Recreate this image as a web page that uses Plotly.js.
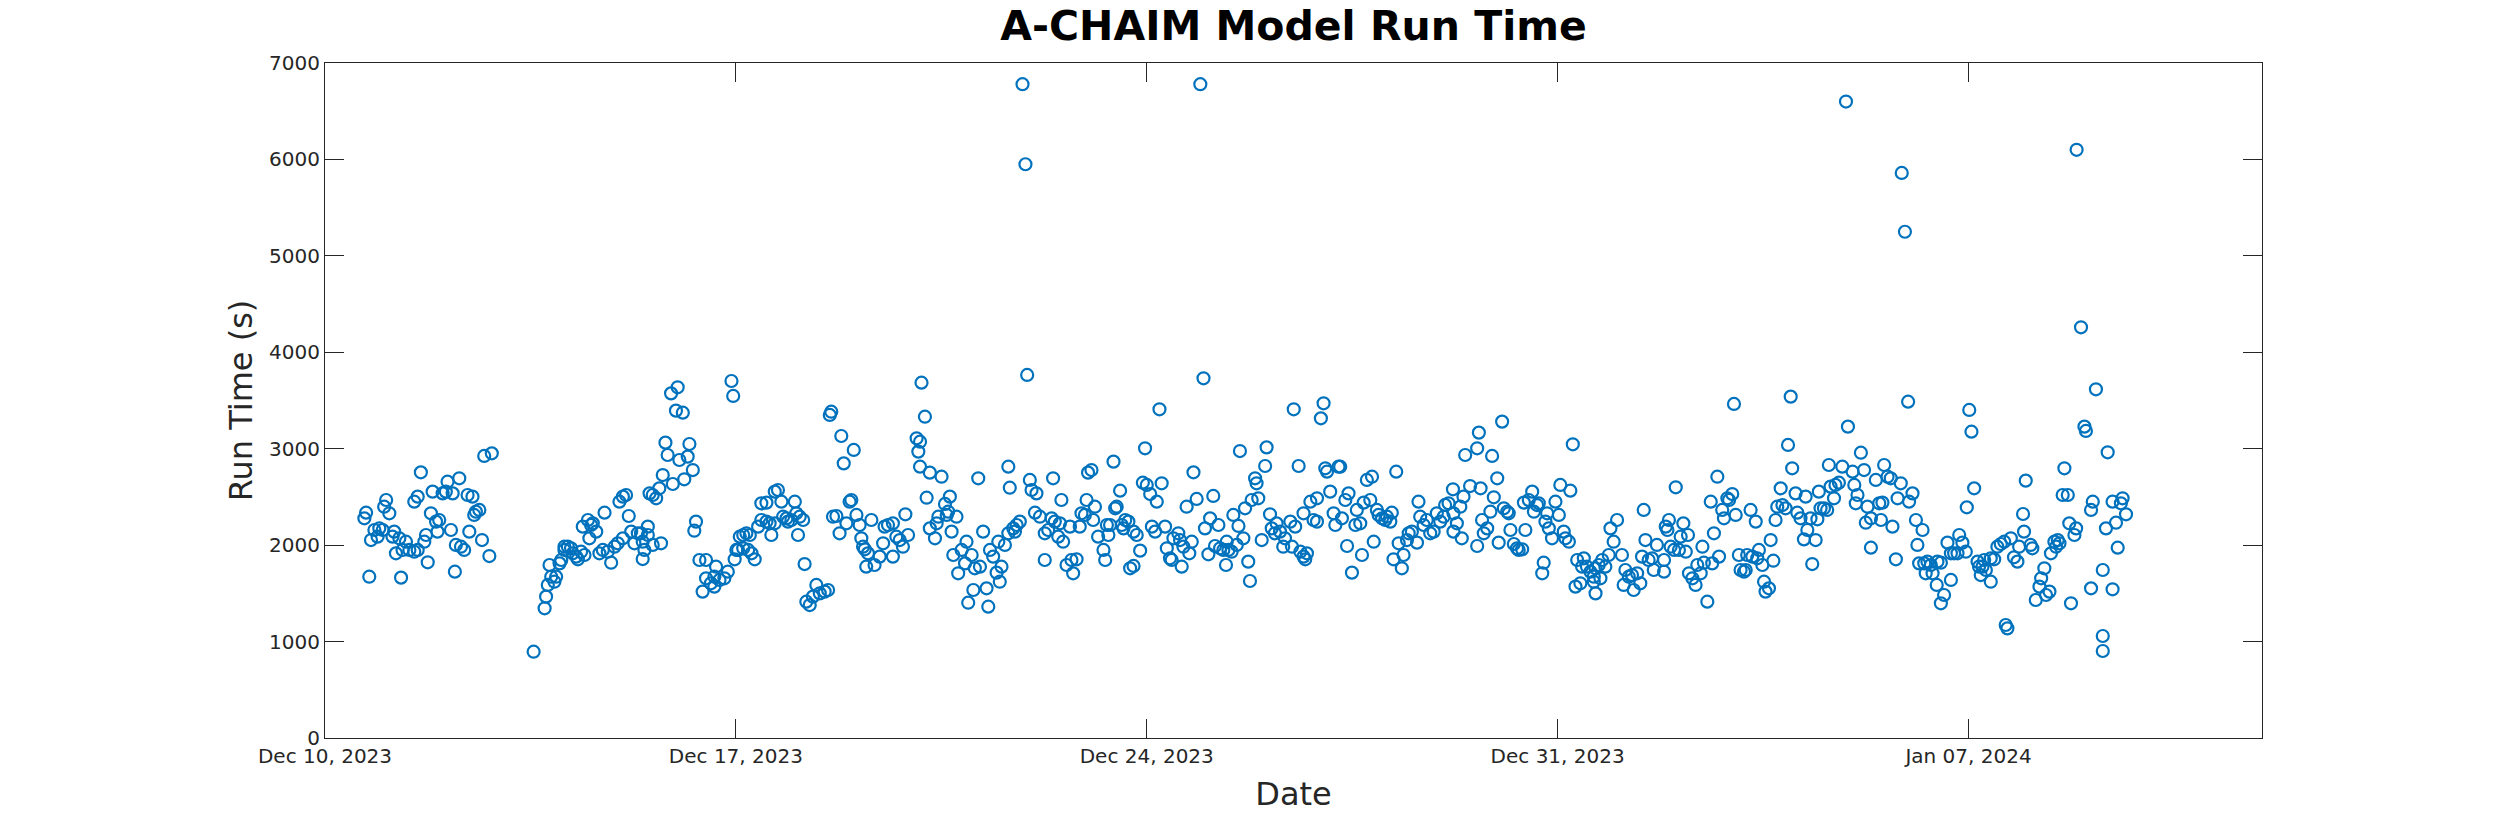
<!DOCTYPE html>
<html>
<head>
<meta charset="utf-8">
<script src="https://cdn.plot.ly/plotly-3.0.1.min.js"></script>
<style>
  html, body { margin: 0; padding: 0; background: #ffffff; }
  #run-time { width: 2500px; height: 833px; }
</style>
</head>
<body>
<div id="run-time"></div>
<script>
// hours after 2023-12-10 00:00 for each model run
const START_DATE = Date.UTC(2023, 11, 10);
const runHours = [
  16.1,16.8,18.1,18.8,20.2,21.5,22.2,23.6,24.2,25.0,26.3,27.6,28.3,29.0,30.4,31.1,31.7,33.1,34.5,36.5,36.5,37.9,37.9,39.2,40.6,41.3,42.0,43.3,44.0,45.4,46.0,46.7,48.1,49.4,50.1,51.5,52.2,53.1,53.5,54.9,55.6,56.9,58.3,59.0,60.3,61.0,61.7,63.1,64.2,65.1,67.2,68.2,85.3,
  89.8,90.4,91.1,91.8,92.5,93.8,94.5,95.9,96.6,97.9,97.9,99.3,100.6,101.3,102.7,103.4,104.7,105.4,106.1,107.5,108.1,108.8,109.5,110.9,112.2,113.6,114.3,115.6,117.0,118.4,119.7,120.4,121.8,121.8,123.1,124.2,125.2,126.5,127.9,129.2,129.9,129.9,130.6,132.0,132.0,132.7,134.0,134.0,135.4,136.7,137.4,138.1,139.2,140.1,141.5,142.2,143.5,144.2,144.9,146.3,146.9,148.3,149.0,150.4,151.0,151.7,153.1,154.4,155.8,155.8,157.8,159.2,159.2,159.9,161.3,163.3,164.7,
  166.2,166.9,167.5,168.2,168.9,169.6,171.0,171.0,172.3,173.0,173.7,174.4,175.7,177.1,178.4,178.4,180.5,180.5,181.8,182.5,183.9,183.9,185.2,186.6,187.3,188.7,189.3,190.7,192.1,192.7,193.4,194.1,195.5,196.1,196.8,198.2,199.5,200.9,202.3,204.3,205.7,206.4,207.0,207.7,209.1,210.4,211.1,212.1,213.2,214.5,215.2,216.2,217.3,218.6,219.3,220.0,220.7,221.3,222.0,223.4,224.7,226.8,228.2,228.8,230.2,232.2,232.2,233.6,235.0,236.3,237.3,238.4,
  241.9,242.6,243.3,243.3,243.9,245.3,246.0,247.3,247.3,249.4,250.1,250.8,252.1,253.5,254.2,254.8,255.5,256.2,256.9,258.2,258.9,260.3,261.7,262.3,263.0,264.4,265.1,265.7,267.1,267.8,269.1,270.5,271.2,271.9,273.2,274.6,275.3,275.9,276.6,278.0,279.4,279.4,280.0,281.4,282.1,282.8,284.1,285.2,286.4,287.1,288.2,288.9,290.3,290.9,292.3,294.3,294.3,295.7,297.1,297.7,298.4,299.8,300.5,301.1,301.8,303.2,304.6,305.2,305.9,307.3,308.6,309.3,310.7,311.4,312.0,313.4,314.1,314.8,316.1,
  318.3,319.0,319.7,320.3,321.0,322.4,323.1,323.7,325.1,325.8,326.5,327.2,328.5,329.2,330.6,330.6,331.9,333.3,334.4,335.3,336.0,337.4,338.1,339.4,340.1,341.2,342.1,343.5,344.2,345.5,346.2,346.9,348.9,349.6,350.3,351.0,352.3,353.4,354.4,355.1,356.4,357.9,359.2,359.8,361.2,361.9,363.2,363.9,365.3,366.0,367.3,368.4,368.7,369.4,370.7,371.4,372.8,373.5,374.1,375.5,376.2,377.5,378.2,378.9,380.3,380.9,381.6,383.0,384.4,385.0,386.4,387.1,388.4,389.1,390.5,391.8,392.5,
  394.7,395.4,396.1,396.7,398.1,398.8,400.1,400.1,400.8,401.5,402.9,404.2,405.6,405.6,407.2,408.3,409.0,409.7,411.0,412.4,413.1,414.4,415.1,415.8,417.2,417.9,418.5,419.9,421.3,421.9,423.3,424.0,424.7,426.0,427.4,428.1,428.8,430.1,430.8,432.2,433.5,434.2,435.6,436.2,436.9,438.0,439.0,440.3,441.0,442.4,443.1,444.4,446.5,447.1,447.8,449.2,450.5,451.9,453.3,454.6,456.0,457.4,458.0,459.4,461.2,461.4,461.4,462.8,464.2,464.8,465.5,466.2,468.2,
  471.1,471.1,471.8,472.5,473.1,473.8,475.2,476.5,477.2,477.9,479.3,479.9,481.3,482.0,483.4,484.0,484.7,486.1,487.4,488.1,489.5,490.2,490.8,492.2,493.6,494.3,495.6,496.3,497.7,498.3,499.0,499.7,500.4,501.7,503.1,504.5,505.1,506.5,507.2,508.6,509.2,510.2,511.3,512.0,513.3,514.0,514.7,516.0,517.4,518.8,518.8,519.5,519.5,520.8,521.5,522.2,523.5,524.9,525.6,526.9,528.3,530.3,531.0,531.7,533.1,534.4,535.1,536.5,537.8,538.5,539.2,539.9,541.2,542.6,543.3,544.6,
  547.5,547.5,548.2,548.9,549.5,550.2,551.6,552.3,553.6,554.3,555.4,556.4,557.3,557.7,559.1,560.4,561.1,562.5,563.2,563.8,565.2,566.6,567.2,567.9,569.3,570.0,571.3,572.0,573.4,574.1,575.4,576.1,576.8,578.1,578.8,580.2,580.9,581.5,582.9,583.6,585.0,585.6,586.3,587.7,588.4,589.0,590.4,591.1,592.2,593.1,593.8,595.2,595.9,597.2,598.2,599.3,599.9,601.3,602.0,603.3,604.7,605.4,606.1,607.4,608.1,609.5,610.2,610.8,611.5,612.9,614.2,614.9,615.6,617.0,617.6,619.0,620.4,621.9,622.7,
  624.6,625.3,625.9,626.6,628.0,629.3,630.0,630.7,632.1,632.1,634.1,635.5,636.2,636.8,637.5,638.9,640.2,640.9,642.3,643.0,644.3,644.7,646.0,647.3,647.7,649.1,650.5,651.1,651.8,653.2,653.9,654.5,655.2,656.6,657.3,659.0,659.3,660.7,660.7,662.0,663.4,664.8,664.8,666.1,667.5,668.2,669.5,670.9,671.3,672.3,673.2,674.3,675.7,676.3,677.0,677.7,678.4,679.1,681.1,681.1,682.5,683.8,685.2,686.6,687.2,687.9,689.3,690.6,692.0,692.7,694.3,694.7,695.4,697.4,698.1,699.5,
  701.0,701.7,703.0,703.7,705.1,705.7,707.1,707.8,708.5,709.2,710.5,711.2,712.6,713.2,713.9,715.3,716.0,716.2,718.0,719.4,720.0,722.1,722.1,722.8,724.1,726.9,726.9,726.9,728.2,728.9,730.9,730.9,732.3,733.0,734.3,735.0,736.4
];

// run time in seconds, same order as runHours
const runSeconds = [
  2278,2337,1673,2053,2157,2088,2174,2157,2399,2468,2330,2088,2140,1915,2071,1663,1950,2036,1950,1932,2451,2503,1950,2755,2036,2105,1822,2330,2555,2244,2140,2261,2537,2555,2658,2157,2537,1725,2002,2693,1984,1950,2520,2140,2503,2313,2347,2365,2053,2925,1887,2952,895,
  1345,1466,1587,1794,1673,1621,1673,1811,1846,1950,1984,1984,1967,1915,1881,1853,1932,2192,1898,2261,2071,2209,2226,2140,1915,1950,2337,1932,1818,1984,2019,2451,2503,2071,2520,2302,2140,2019,2123,2123,2036,1856,1950,2192,2105,2537,2520,2002,2486,2589,2019,2727,3063,2935,3574,2634,3395,3637,2883,3374,2683,2918,3049,2779,2150,2244,1846,1518,1846,1656,1604,1673,1570,1777,1639,1656,1725,
  3702,3547,1853,1950,1950,2088,2105,1967,2123,1950,2105,1915,1853,2192,2434,2261,2441,2244,2226,2105,2555,2226,2572,2451,2295,2278,2244,2261,2451,2330,2105,2295,2261,1804,1414,1379,1466,1587,1500,1518,1535,3350,3384,2295,2302,2123,3132,2848,2226,2451,2468,2987,2313,2209,2071,1984,1957,1777,1915,2261,1794,1881,2019,2192,2209,2226,1881,2088,2053,1984,2320,2105,
  3108,2970,3073,2814,3685,3332,2492,2752,2174,2071,2226,2295,2710,2427,2313,2347,2503,2140,1898,2295,1708,1950,1811,2036,1403,1898,1535,1760,2693,1777,2140,1552,1362,1950,1881,1715,2036,1621,1777,2002,2814,2123,2596,2174,2140,2209,2244,6780,5950,3765,2676,2572,2337,2537,2295,2123,1846,2157,2278,2693,2244,2088,2226,2468,2036,1794,2192,1846,1708,1853,2192,2330,2313,2468,2752,2779,2261,2399,2088,
  1950,1846,2209,2105,2209,2866,2382,2399,2565,2209,2174,2261,2244,1760,2140,1784,2105,1943,2648,3004,2624,2530,2192,2140,2451,3409,2641,2192,1967,1863,1846,2071,2123,2053,1777,1984,2399,1915,2036,2755,2479,6780,3730,2174,1905,2278,2510,1991,2209,1967,1950,1794,2036,1950,1932,2313,2002,2199,2976,2071,2382,1829,1628,2468,2693,2641,2486,2053,2821,3014,2320,2174,2123,2226,2140,1984,2071,
  2244,1984,3409,2192,2821,1932,2330,1881,1853,1915,2451,2261,2486,2244,3315,3471,2797,2762,2555,2330,2209,2814,2814,2278,2468,1991,2537,1715,2209,2365,2226,1898,2441,2676,2468,2710,2036,2365,2313,2278,2261,2295,2244,2337,1853,2762,2019,1760,1898,2053,2123,2140,2026,2451,2295,2209,2261,2123,2140,2330,2244,2295,2417,2434,2579,2330,2140,2226,2399,2071,2503,2935,2613,
  3004,1991,3167,2589,2261,2123,2174,2347,2925,2496,2693,2026,3281,2382,2347,2330,2157,2012,1967,1950,1957,2441,2157,2468,2555,2347,2416,2434,1708,1818,2244,2330,2174,2071,2451,2313,2624,2140,2071,2036,2565,3046,1570,1846,1604,1777,1863,1777,1725,1673,1621,1760,1500,1794,1656,1846,1777,1898,2174,2036,2261,1898,1587,1742,1673,1690,1535,1708,1604,1881,2365,2053,1846,1863,1742,2002,
  1846,1725,2192,2157,2261,1984,1950,2600,1950,2088,2226,1932,2105,1708,1656,1587,1794,1708,1984,1818,1414,2451,1811,2123,2710,1881,2365,2278,2486,2468,2530,3464,2313,1898,1742,1725,1742,1898,2365,1881,2244,1863,1950,1794,1621,1518,1552,2053,1839,2261,2399,2589,2416,2382,3039,3540,2797,2537,2337,2278,2060,2503,2157,2278,1804,2053,2268,2555,2382,2382,2365,2831,2607,2486,2624,2648,2814,6600,3229,
  2762,2624,2434,2520,2959,2779,2233,2399,2278,1974,2676,2434,2261,2441,2831,2710,2693,2192,1853,2486,2641,5860,5250,3488,2451,2537,2261,2002,1811,2157,1811,1708,1829,1794,1708,1587,1829,1818,1397,1483,2026,1915,1639,1915,1915,2105,2026,1932,2392,3402,3177,2589,1829,1777,1690,1777,1846,1742,1863,1621,1853,1984,2012,2036,1172,1137,2071,1874,1829,1984,2323,2140,2669,2002,1967,1431,
  1570,1656,1760,1483,1518,1915,2036,1984,2053,2019,2520,2797,2520,2226,1397,2105,2174,6100,4259,3229,3184,2365,1552,2451,3616,1742,1058,902,2174,2963,2451,1542,2233,1974,2434,2486,2320
];

const xLimits = ["2023-12-10", "2024-01-12"];
const xTickStart = "2023-12-10";
const yTicks = [0, 1000, 2000, 3000, 4000, 5000, 6000, 7000];

const FONT = "DejaVu Sans, Liberation Sans, sans-serif";
const INK = "#262626";
const WEEK_MS = 7 * 24 * 3600 * 1000;

const toDateString = (h) =>
  new Date(START_DATE + h * 3600 * 1000).toISOString().slice(0, 19).replace("T", " ");

const drawRunTime = () => {
  const plotEl = document.getElementById("run-time");

  if (runHours.length !== runSeconds.length) {
    console.warn("length mismatch", runHours.length, runSeconds.length);
  }

  const data = [
    {
      x: runHours.map(toDateString),
      y: runSeconds,
      type: "scatter",
      mode: "markers",
      marker: {
        symbol: "circle-open",
        size: 12,
        color: "#0072BD",
        line: { color: "#0072BD", width: 2.2 }
      },
      hoverinfo: "skip"
    }
  ];

  const axisCommon = {
    showline: true,
    linecolor: INK,
    linewidth: 1,
    mirror: "allticks",
    ticks: "inside",
    ticklen: 19,
    tickwidth: 1,
    tickcolor: INK,
    showgrid: false,
    zeroline: false,
    automargin: false,
    tickfont: { family: FONT, size: 20, color: INK }
  };

  const layout = {
    width: 2500,
    height: 833,
    margin: { t: 63, r: 238, b: 95, l: 325 },
    paper_bgcolor: "#ffffff",
    plot_bgcolor: "#ffffff",
    showlegend: false,
    title: {
      text: "A-CHAIM Model Run Time",
      font: { family: FONT, size: 41, color: "#000000", weight: "bold" },
      x: 0.5,
      xref: "paper",
      y: 1 - 26 / 833,
      yref: "container",
      yanchor: "middle"
    },
    xaxis: {
      ...axisCommon,
      type: "date",
      range: xLimits,
      tick0: xTickStart,
      dtick: WEEK_MS,
      tickformat: "%b %d, %Y",
      title: { text: "Date", font: { family: FONT, size: 32, color: INK }, standoff: 15 }
    },
    yaxis: {
      ...axisCommon,
      range: [0, 7000],
      tickvals: yTicks,
      title: { text: "Run Time (s)", font: { family: FONT, size: 32, color: INK }, standoff: 6 }
    }
  };

  Plotly.newPlot(plotEl, data, layout, { displayModeBar: false, staticPlot: true });
};

drawRunTime();
</script>
</body>
</html>
